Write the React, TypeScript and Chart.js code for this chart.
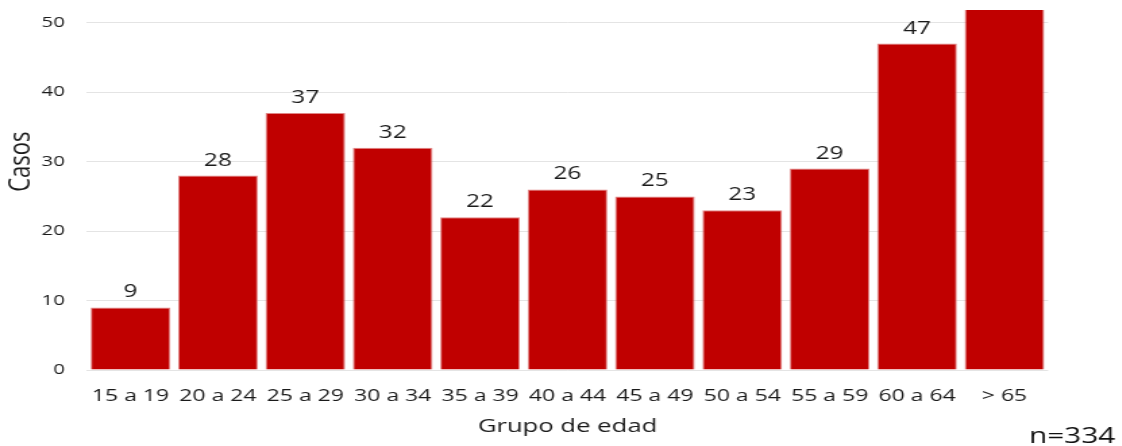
import React, { useEffect, useRef } from "react";
import { Chart, registerables } from "chart.js";

Chart.register(...registerables);

// Cases by age group
const ageGroups = [
  "15 a 19", "20 a 24", "25 a 29", "30 a 34", "35 a 39", "40 a 44",
  "45 a 49", "50 a 54", "55 a 59", "60 a 64", "> 65",
];
const cases = [9, 28, 37, 32, 22, 26, 25, 23, 29, 47, 56];
const yTickValues = [0, 10, 20, 30, 40, 50, 60];
const totalLabel = "n=334";

// The chart is drawn narrower and widened with CSS so the type is broad.
const STRETCH = 1.35;
const PAGE_W = 1122;
const CANVAS_W = PAGE_W / STRETCH;
const CANVAS_H = 518;
const FONT = "'Open Sans', 'DejaVu Sans', sans-serif";
const BAR_RED = "#C00000";
const TEXT = "#1a1a1a";

const valueLabels = {
  id: "valueLabels",
  afterDatasetsDraw(chart: any) {
    const { ctx, chartArea } = chart;
    const meta = chart.getDatasetMeta(0);
    ctx.save();
    ctx.font = `18px ${FONT}`;
    ctx.fillStyle = TEXT;
    ctx.textAlign = "center";
    ctx.textBaseline = "alphabetic";
    meta.data.forEach((bar: any, i: number) => {
      const y = bar.y - 10;
      if (y < chartArea.top) return;
      ctx.fillText(String(cases[i]), bar.x, y);
    });
    ctx.restore();
  },
};

const totalNote = {
  id: "totalNote",
  afterDraw(chart: any) {
    const { ctx } = chart;
    ctx.save();
    ctx.font = `22px ${FONT}`;
    ctx.fillStyle = "#111";
    ctx.textAlign = "right";
    ctx.textBaseline = "alphabetic";
    ctx.fillText(totalLabel, chart.width - 5, chart.height - 3);
    ctx.restore();
  },
};

export default function App() {
  const canvasRef = useRef<HTMLCanvasElement | null>(null);

  useEffect(() => {
    if (!canvasRef.current) return;
    const chart = new Chart(canvasRef.current, {
      type: "bar",
      data: {
        labels: ageGroups,
        datasets: [
          {
            data: cases,
            backgroundColor: BAR_RED,
            borderColor: "rgba(222,120,120,0.9)",
            borderWidth: 1,
            barPercentage: 0.912,
            categoryPercentage: 1,
          },
        ],
      },
      options: {
        animation: false,
        responsive: true,
        maintainAspectRatio: false,
        layout: { padding: { top: 12.4, right: 54.7, bottom: 0, left: 0 } },
        plugins: {
          legend: { display: false },
          tooltip: { enabled: false },
        },
        scales: {
          x: {
            grid: { display: false, drawTicks: false },
            border: { display: false },
            ticks: {
              color: TEXT,
              font: { family: FONT, size: 17 },
              padding: 16,
              maxRotation: 0,
              autoSkip: false,
            },
            title: {
              display: true,
              text: "Grupo de edad",
              color: TEXT,
              font: { family: FONT, size: 19 },
              padding: { top: 0, bottom: 8 },
            },
            afterFit(scale: any) {
              scale.height = 76;
            },
          },
          y: {
            min: 0,
            max: 60,
            afterBuildTicks(scale: any) {
              scale.ticks = yTickValues.map((v) => ({ value: v }));
            },
            grid: { color: "#e4e4e4", lineWidth: 1, drawTicks: false },
            border: { display: false },
            ticks: {
              color: TEXT,
              font: { family: FONT, size: 15 },
              padding: 16.3,
            },
            title: {
              display: true,
              text: "Casos",
              color: TEXT,
              font: { family: "'Liberation Sans Narrow', 'Open Sans', sans-serif", size: 22 },
              padding: { top: 3, bottom: 0 },
            },
            afterFit(scale: any) {
              scale.width = 64.3;
            },
          },
        },
      },
      plugins: [valueLabels, totalNote],
    });
    return () => chart.destroy();
  }, []);

  return (
    <div
      style={{
        position: "fixed",
        top: 10,
        left: 0,
        width: PAGE_W,
        height: 436,
        overflow: "hidden",
        background: "#fff",
      }}
    >
      <div
        style={{
          position: "absolute",
          top: -82,
          left: 0,
          width: CANVAS_W,
          height: CANVAS_H,
          transform: `scaleX(${STRETCH})`,
          transformOrigin: "left top",
        }}
      >
        <canvas ref={canvasRef} />
      </div>
    </div>
  );
}
